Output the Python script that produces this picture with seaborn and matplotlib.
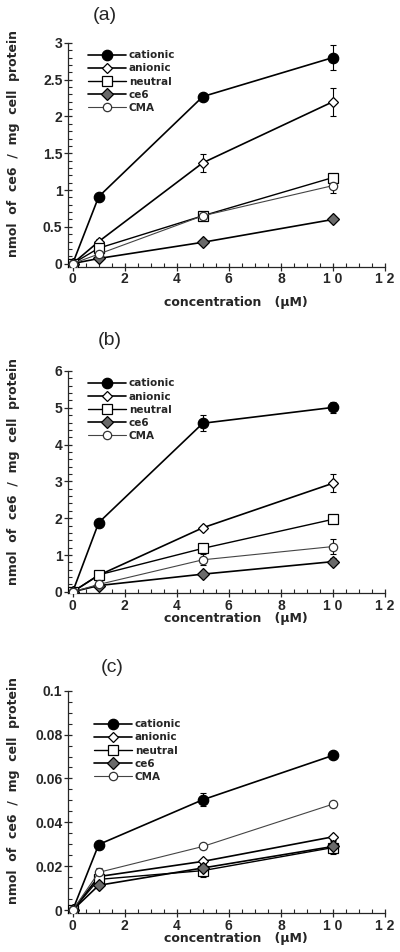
import numpy as np
import pandas as pd
import matplotlib
matplotlib.use("Agg")
import matplotlib.pyplot as plt
import seaborn as sns
from matplotlib.ticker import MultipleLocator

# concentration (uM)
conc = [0, 1, 5, 10]
series_names = ["cationic", "anionic", "neutral", "ce6", "CMA"]

# panel (a)
a_cationic = [0, 0.91, 2.27, 2.80]
a_anionic = [0, 0.30, 1.37, 2.20]
a_neutral = [0, 0.21, 0.65, 1.17]
a_ce6 = [0, 0.07, 0.29, 0.60]
a_cma = [0, 0.13, 0.65, 1.06]
a_err_cationic = [0, 0, 0.03, 0.17]
a_err_anionic = [0, 0.03, 0.12, 0.19]
a_err_neutral = [0, 0, 0.04, 0.02]
a_err_ce6 = [0, 0, 0, 0]
a_err_cma = [0, 0, 0.03, 0.10]

# panel (b)
b_cationic = [0, 1.88, 4.58, 5.01]
b_anionic = [0, 0.45, 1.74, 2.95]
b_neutral = [0, 0.46, 1.18, 1.97]
b_ce6 = [0, 0.17, 0.48, 0.82]
b_cma = [0, 0.20, 0.87, 1.23]
b_err_cationic = [0, 0, 0.22, 0.15]
b_err_anionic = [0, 0.04, 0.06, 0.25]
b_err_neutral = [0, 0.04, 0.09, 0.05]
b_err_ce6 = [0, 0, 0.05, 0.10]
b_err_cma = [0, 0, 0.15, 0.21]

# panel (c)
c_cationic = [0, 0.0299, 0.0503, 0.0705]
c_anionic = [0, 0.0153, 0.0222, 0.0334]
c_neutral = [0, 0.0140, 0.0180, 0.0285]
c_ce6 = [0, 0.0113, 0.0192, 0.0290]
c_cma = [0, 0.0172, 0.0290, 0.0483]
c_err_cationic = [0, 0.0010, 0.0030, 0.0010]
c_err_anionic = [0, 0.0010, 0.0010, 0.0010]
c_err_neutral = [0, 0.0010, 0.0030, 0.0030]
c_err_ce6 = [0, 0.0010, 0.0010, 0.0030]
c_err_cma = [0, 0.0020, 0.0010, 0.0005]

x_ticklabels = ["0", "2", "4", "6", "8", "1 0", "1 2"]
a_yticklabels = ["0", "0.5", "1", "1.5", "2", "2.5", "3"]
b_yticklabels = ["0", "1", "2", "3", "4", "5", "6"]
c_yticklabels = ["0", "0.02", "0.04", "0.06", "0.08", "0.1"]

styles = {
    "cationic": dict(marker="o", mfc="black", mec="black", ms=7.5, color="black", lw=1.2),
    "anionic": dict(marker="D", mfc="white", mec="black", ms=5.5, color="black", lw=1.2),
    "neutral": dict(marker="s", mfc="white", mec="black", ms=6.5, color="black", lw=1.0),
    "ce6": dict(marker="D", mfc="#6a6a6a", mec="black", ms=6.5, color="black", lw=1.2),
    "CMA": dict(marker="o", mfc="white", mec="#333333", ms=6, color="#444444", lw=0.8),
}

sns.set_style("ticks")
plt.rcParams["font.family"] = ["Liberation Sans", "DejaVu Sans"]
lab_font = dict(family="DejaVu Sans", fontweight="bold", fontsize=9)

fig = plt.figure(figsize=(4, 9.52), dpi=100)

# title, values, errors, ytick labels, major step, minor step, ylim, axes rect,
# legend anchor, title pos (px), xlabel offset (axes frac)
panels = [
    ("(a)", [a_cationic, a_anionic, a_neutral, a_ce6, a_cma],
     [a_err_cationic, a_err_anionic, a_err_neutral, a_err_ce6, a_err_cma],
     a_yticklabels, 0.5, 0.1, (-0.04, 3.0), [0.17, 0.72, 0.7925, 0.235],
     (0.05, 0.985), (105, 16), -0.13),
    ("(b)", [b_cationic, b_anionic, b_neutral, b_ce6, b_cma],
     [b_err_cationic, b_err_anionic, b_err_neutral, b_err_ce6, b_err_cma],
     b_yticklabels, 1, 0.2, (-0.04, 6.0), [0.17, 0.3768, 0.7925, 0.2335],
     (0.05, 0.985), (110, 340), -0.085),
    ("(c)", [c_cationic, c_anionic, c_neutral, c_ce6, c_cma],
     [c_err_cationic, c_err_anionic, c_err_neutral, c_err_ce6, c_err_cma],
     c_yticklabels, 0.02, 0.005, (-0.0013, 0.1), [0.17, 0.041, 0.7925, 0.2335],
     (0.07, 0.89), (112, 667), -0.085),
]

for title, vals, errs, ylabels, ymaj, ymin, ylim, rect, leg_pos, title_xy, xlab_y in panels:
    ax = fig.add_axes(rect)
    for name, y, e in zip(series_names, vals, errs):
        st = styles[name]
        ax.errorbar(conc, y, yerr=e, fmt="none", ecolor="black", elinewidth=0.8,
                    capsize=2.5, capthick=0.8, zorder=2)
        df = pd.DataFrame({"conc": conc, "val": y})
        sns.lineplot(data=df, x="conc", y="val", ax=ax, color=st["color"], lw=st["lw"],
                     marker=st["marker"], markerfacecolor=st["mfc"], markeredgecolor=st["mec"],
                     markersize=st["ms"], markeredgewidth=0.9, label=name, zorder=3)

    ax.set_xlim(-0.18, 12)
    ax.set_ylim(*ylim)
    ax.set_xticks([0, 2, 4, 6, 8, 10, 12])
    ax.set_xticklabels(x_ticklabels)
    ax.xaxis.set_minor_locator(MultipleLocator(0.5))
    yt = [i * ymaj for i in range(len(ylabels))]
    ax.set_yticks(yt)
    ax.set_yticklabels(ylabels)
    ax.yaxis.set_minor_locator(MultipleLocator(ymin))
    ax.tick_params(which="major", direction="inout", length=6, width=0.9, labelsize=10, pad=1)
    ax.tick_params(which="minor", direction="in", length=3, width=0.8)
    for lab in ax.get_xticklabels() + ax.get_yticklabels():
        lab.set_fontweight("bold")
    sns.despine(ax=ax)
    for sp in ax.spines.values():
        sp.set_linewidth(0.9)

    ax.set_xlabel("concentration   (\u03bcM)", **lab_font)
    ax.xaxis.set_label_coords(0.53, xlab_y)
    ax.set_ylabel("nmol  of  ce6  /  mg  cell  protein", **lab_font)
    ax.yaxis.set_label_coords(-0.15, 0.55)

    leg = ax.legend(loc="upper left", bbox_to_anchor=leg_pos, frameon=False,
                    prop=dict(family="DejaVu Sans", weight="bold", size=7.5),
                    handlelength=3.6, handletextpad=0.3,
                    labelspacing=0.3, borderaxespad=0)

    fig.text(title_xy[0] / 400, 1 - title_xy[1] / 952, title, fontsize=14,
             ha="center", va="center")

fig.savefig("out.png", dpi=100)
